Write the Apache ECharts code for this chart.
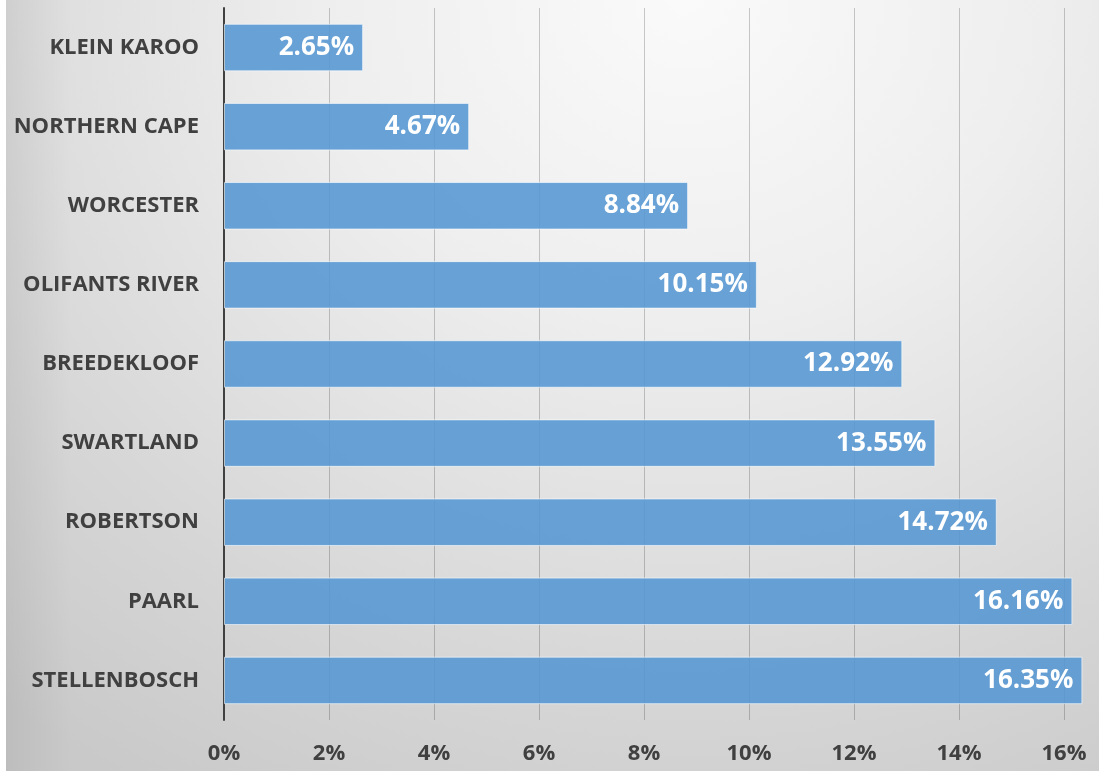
<!DOCTYPE html>
<html>
<head>
<meta charset="utf-8">
<script src="https://cdn.jsdelivr.net/npm/echarts@6/dist/echarts.min.js"></script>
<style>
  html, body { margin: 0; padding: 0; background: #fff; }
  #wrap {
    position: absolute; left: 6px; top: 0; width: 1093px; height: 771px;
    background:
      linear-gradient(to right, rgba(0,0,0,0.06) 0%, rgba(0,0,0,0) 6%),
      radial-gradient(ellipse 95% 120% at 62% 0%, #fafafa 0%, #eeeeee 35%, #d6d6d6 75%, #c9c9c9 100%);
  }
  #chart { position: absolute; left: -6px; top: 0; width: 1107px; height: 771px; }
</style>
</head>
<body>
<div id="wrap"><div id="chart"></div></div>
<script>
// regions, top of chart first
const regions = ['KLEIN KAROO', 'NORTHERN CAPE', 'WORCESTER', 'OLIFANTS RIVER', 'BREEDEKLOOF',
  'SWARTLAND', 'ROBERTSON', 'PAARL', 'STELLENBOSCH']
const shares = [2.65, 4.67, 8.84, 10.15, 12.92, 13.55, 14.72, 16.16, 16.35]

const chart = echarts.init(document.getElementById('chart'))
chart.setOption({
  backgroundColor: 'transparent',
  animation: false,
  grid: { left: 224, right: 43, top: 8, bottom: 51 },
  xAxis: {
    type: 'value',
    min: 0,
    max: 16,
    interval: 2,
    axisLine: { show: false },
    axisTick: { show: false },
    splitLine: { lineStyle: { color: 'rgba(0,0,0,0.2)', width: 1 } },
    axisLabel: {
      formatter: v => v + '%',
      color: '#404040',
      fontFamily: 'Open Sans',
      fontWeight: 'bold',
      fontSize: 22,
      margin: 23
    }
  },
  yAxis: {
    type: 'category',
    inverse: true,
    data: regions,
    axisLine: { show: true, lineStyle: { color: '#404040', width: 2 } },
    axisTick: { show: false },
    axisLabel: {
      color: '#404040',
      fontFamily: 'Open Sans',
      fontWeight: 'bold',
      fontSize: 22,
      margin: 25
    }
  },
  series: [{
    type: 'bar',
    data: shares,
    clip: false,
    barCategoryGap: '40%',
    itemStyle: {
      color: 'rgba(84,150,210,0.88)',
      borderColor: 'rgba(255,255,255,0.6)',
      borderWidth: 1
    },
    label: {
      show: true,
      position: 'insideRight',
      distance: 9,
      formatter: p => p.value.toFixed(2) + '%',
      color: '#fff',
      fontFamily: 'Open Sans',
      fontWeight: 'bold',
      fontSize: 26
    }
  }]
})
</script>
</body>
</html>
